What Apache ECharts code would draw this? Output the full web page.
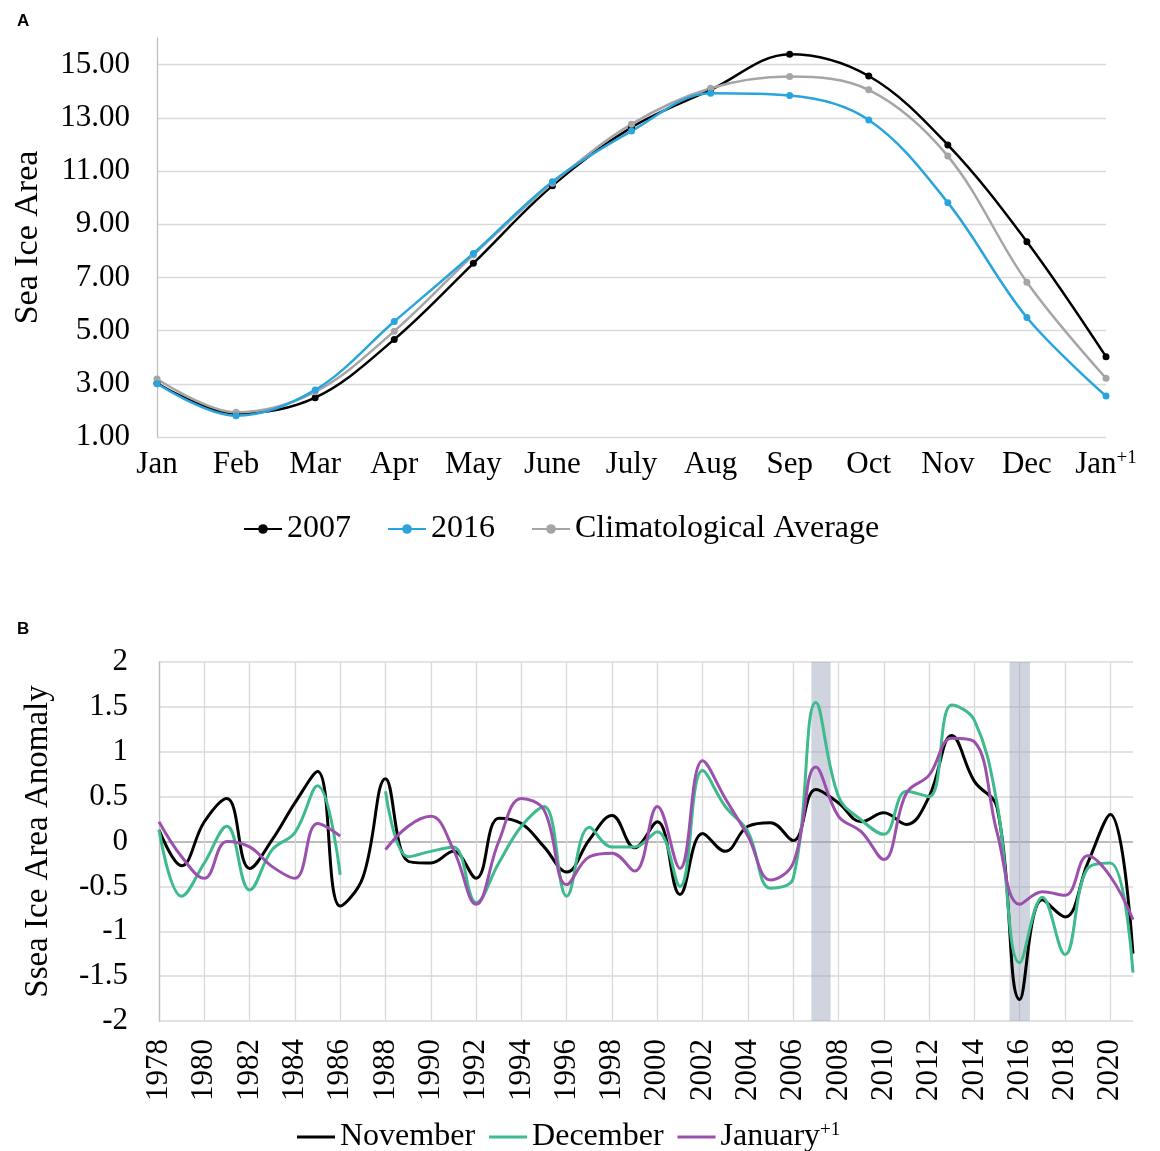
<!DOCTYPE html>
<html>
<head>
<meta charset="utf-8">
<script src="https://cdn.jsdelivr.net/npm/echarts@6/dist/echarts.min.js"></script>
<style>
  html, body { margin: 0; padding: 0; background: #fff; }
  #chart { width: 1160px; height: 1151px; }
</style>
</head>
<body>
<div id="chart"></div>
<script>
// panel A: monthly sea ice area
const months = ['Jan', 'Feb', 'Mar', 'Apr', 'May', 'June', 'July', 'Aug', 'Sep', 'Oct', 'Nov', 'Dec', 'Jan+1']
const area2007 = [3.02, 1.88, 2.48, 4.67, 7.53, 10.45, 12.64, 14.05, 15.39, 14.57, 11.98, 8.34, 4.02]
const area2016 = [3.0, 1.8, 2.77, 5.34, 7.9, 10.6, 12.5, 13.92, 13.84, 12.92, 9.81, 5.49, 2.54]
const areaClim = [3.18, 1.93, 2.7, 4.98, 7.84, 10.54, 12.76, 14.11, 14.55, 14.05, 11.56, 6.82, 3.21]

// panel B: anomalies 1978-2021 (1987 missing for Dec / Jan)
const years = []
for (let y = 1978; y <= 2021; y++) years.push(y)
const novAnom = [0.13, -0.27, 0.22, 0.48, -0.3, 0.02, 0.43, 0.78, -0.72, -0.4,
  0.7, -0.22, -0.24, -0.11, -0.41, 0.26, 0.2, -0.06, -0.34, 0.02,
  0.29, -0.07, 0.22, -0.59, 0.09, -0.11, 0.17, 0.21, 0.01, 0.58,
  0.43, 0.22, 0.32, 0.19, 0.5, 1.18, 0.67, 0.38, -1.76, -0.65,
  -0.84, -0.24, 0.3, -1.25]
const decAnom = [0.13, -0.61, -0.24, 0.17, -0.54, -0.09, 0.1, 0.62, -0.37, null,
  0.56, -0.17, -0.11, -0.06, -0.68, -0.24, 0.17, 0.39, -0.61, 0.16,
  -0.06, -0.06, 0.11, -0.5, 0.79, 0.39, 0.11, -0.52, -0.41, 1.55,
  0.5, 0.24, 0.08, 0.56, 0.5, 1.52, 1.35, 0.42, -1.35, -0.62,
  -1.26, -0.3, -0.24, -1.46]
const janAnom = [0.22, -0.17, -0.41, 0.0, -0.06, -0.28, -0.41, 0.2, 0.06, null,
  -0.09, 0.17, 0.28, -0.09, -0.7, 0.0, 0.48, 0.35, -0.48, -0.17,
  -0.13, -0.33, 0.39, -0.3, 0.9, 0.48, 0.06, -0.43, -0.24, 0.83,
  0.28, 0.11, -0.2, 0.54, 0.74, 1.15, 1.11, 0.1, -0.7, -0.56,
  -0.6, -0.16, -0.39, -0.87]
const bandYears = [[2006.8, 2007.65], [2015.55, 2016.45]]

const serif = 'Liberation Serif'
const pairs = arr => years.map((y, i) => [y, arr[i]])
const supRich = { sup: { fontSize: 19, fontFamily: serif, color: '#000', verticalAlign: 'top', lineHeight: 20 } }

const chart = echarts.init(document.getElementById('chart'))
chart.setOption({
  animation: false,
  backgroundColor: '#fff',
  title: [
    { text: 'A', left: 12, top: 8, textStyle: { fontFamily: 'Liberation Sans', fontWeight: 'bold', fontSize: 17, color: '#000' } },
    { text: 'B', left: 12, top: 616, textStyle: { fontFamily: 'Liberation Sans', fontWeight: 'bold', fontSize: 17, color: '#000' } }
  ],
  legend: [
    {
      data: ['2007', '2016', 'Climatological Average'],
      left: 238,
      top: 508,
      itemWidth: 38,
      itemHeight: 12,
      itemGap: 36,
      textStyle: { fontFamily: serif, fontSize: 32, color: '#000' }
    },
    {
      data: ['November', 'December', 'January+1'],
      left: 292,
      top: 1116,
      icon: 'rect',
      itemWidth: 38,
      itemHeight: 3,
      itemGap: 14,
      formatter: name => (name === 'January+1' ? 'January{sup|+1}' : name),
      textStyle: { fontFamily: serif, fontSize: 32, color: '#000', rich: supRich }
    }
  ],
  grid: [
    { left: 157, right: 54, top: 38, bottom: 714 },
    { left: 159, right: 27, top: 662, bottom: 130 }
  ],
  xAxis: [
    {
      type: 'category',
      gridIndex: 0,
      data: months,
      boundaryGap: false,
      axisLine: { show: false },
      axisTick: { show: false },
      axisLabel: {
        interval: 0,
        margin: 12,
        fontFamily: serif,
        fontSize: 31,
        color: '#000',
        formatter: v => (v === 'Jan+1' ? 'Jan{sup|+1}' : v),
        rich: supRich
      }
    },
    {
      type: 'value',
      gridIndex: 1,
      min: 1978,
      max: 2021,
      interval: 2,
      axisLine: { show: false },
      axisTick: { show: false },
      splitLine: { show: true, showMaxLine: false, lineStyle: { color: '#d9d9d9', width: 1.3 } },
      axisLabel: {
        rotate: 90,
        margin: 18,
        showMaxLabel: false,
        fontFamily: serif,
        fontSize: 31,
        color: '#000',
        formatter: v => String(v)
      }
    }
  ],
  yAxis: [
    {
      type: 'value',
      gridIndex: 0,
      min: 1,
      max: 16,
      interval: 2,
      name: 'Sea Ice Area',
      nameLocation: 'middle',
      nameGap: 112,
      nameTextStyle: { fontFamily: serif, fontSize: 34, color: '#000' },
      axisLine: { show: true, lineStyle: { color: '#bfbfbf', width: 1.3 } },
      axisTick: { show: false },
      splitLine: { show: true, showMaxLine: false, lineStyle: { color: '#d9d9d9', width: 1.3 } },
      axisLabel: {
        margin: 27,
        showMaxLabel: false,
        fontFamily: serif,
        fontSize: 31,
        color: '#000',
        formatter: v => v.toFixed(2)
      }
    },
    {
      type: 'value',
      gridIndex: 1,
      min: -2,
      max: 2,
      interval: 0.5,
      name: 'Ssea Ice Area Anomaly',
      nameLocation: 'middle',
      nameGap: 104,
      nameTextStyle: { fontFamily: serif, fontSize: 33, color: '#000' },
      axisLine: { show: true, lineStyle: { color: '#bfbfbf', width: 1.3 } },
      axisTick: { show: false },
      splitLine: {
        show: true,
        lineStyle: {
          color: ['#d9d9d9', '#d9d9d9', '#d9d9d9', '#d9d9d9', '#a6a6a6', '#d9d9d9', '#d9d9d9', '#d9d9d9', '#d9d9d9'],
          width: 1.5
        }
      },
      axisLabel: { margin: 31, fontFamily: serif, fontSize: 31, color: '#000' }
    }
  ],
  series: [
    {
      name: '2007', type: 'line', xAxisIndex: 0, yAxisIndex: 0, data: area2007,
      smooth: 0.35, symbol: 'circle', symbolSize: 7,
      lineStyle: { color: '#000000', width: 2.5 }, itemStyle: { color: '#000000' }
    },
    {
      name: 'Climatological Average', type: 'line', xAxisIndex: 0, yAxisIndex: 0, data: areaClim,
      smooth: 0.35, symbol: 'circle', symbolSize: 7,
      lineStyle: { color: '#a5a5a5', width: 2.5 }, itemStyle: { color: '#a5a5a5' }
    },
    {
      name: '2016', type: 'line', xAxisIndex: 0, yAxisIndex: 0, data: area2016,
      smooth: 0.35, symbol: 'circle', symbolSize: 7,
      lineStyle: { color: '#2aa4dd', width: 2.5 }, itemStyle: { color: '#2aa4dd' }
    },
    {
      name: 'November', type: 'line', xAxisIndex: 1, yAxisIndex: 1, data: pairs(novAnom),
      smooth: 0.4, symbol: 'none', connectNulls: false,
      lineStyle: { color: '#000000', width: 3 }, itemStyle: { color: '#000000' }
    },
    {
      name: 'December', type: 'line', xAxisIndex: 1, yAxisIndex: 1, data: pairs(decAnom),
      smooth: 0.4, symbol: 'none', connectNulls: false,
      lineStyle: { color: '#3dbb8c', width: 3 }, itemStyle: { color: '#3dbb8c' }
    },
    {
      name: 'January+1', type: 'line', xAxisIndex: 1, yAxisIndex: 1, data: pairs(janAnom),
      smooth: 0.4, symbol: 'none', connectNulls: false,
      lineStyle: { color: '#9b50ad', width: 3 }, itemStyle: { color: '#9b50ad' }
    },
    {
      // translucent bands over the lines
      type: 'line', xAxisIndex: 1, yAxisIndex: 1, data: [], z: 10, silent: true,
      markArea: {
        silent: true,
        itemStyle: { color: 'rgba(150,160,185,0.45)' },
        data: bandYears.map(b => [{ xAxis: b[0] }, { xAxis: b[1] }])
      }
    }
  ]
})
</script>
</body>
</html>
